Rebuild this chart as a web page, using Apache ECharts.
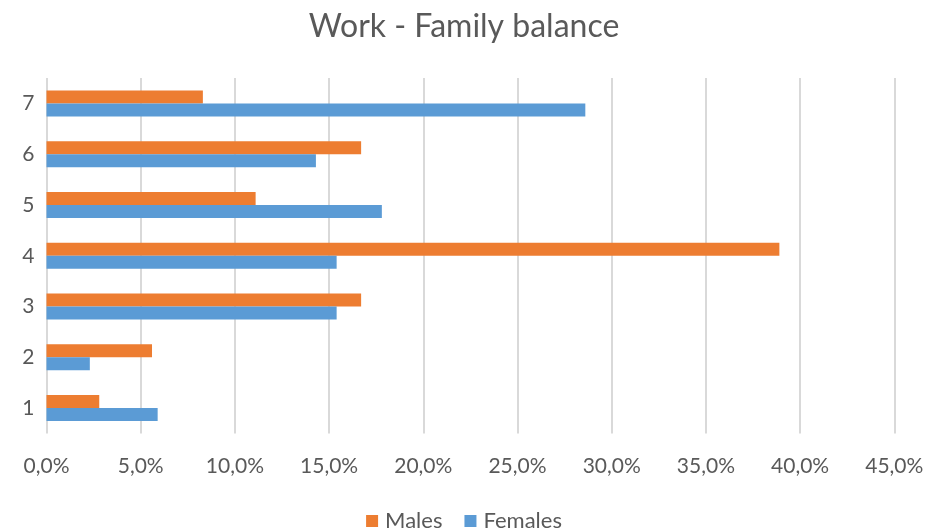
<!DOCTYPE html>
<html><head><meta charset="utf-8">
<script src="https://cdn.jsdelivr.net/npm/echarts@6/dist/echarts.min.js"></script>
<style>html,body{margin:0;padding:0;background:#fff}#c{width:928px;height:531px}</style>
</head><body><div id="c"></div>
<script>
const categories = ['1','2','3','4','5','6','7'];
const males = [2.8, 5.6, 16.7, 38.9, 11.1, 16.7, 8.3];
const females = [5.9, 2.3, 15.4, 15.4, 17.8, 14.3, 28.6];
const titleText = 'Work - Family balance';
const font = 'Lato, "Open Sans", sans-serif';
const chart = echarts.init(document.getElementById('c'));
chart.setOption({
  animation: false,
  title: { text: titleText, left: 'center', top: 6, textStyle: { fontFamily: font, fontSize: 32, fontWeight: 'normal', color: '#595959' } },
  legend: { data: ['Males','Females'], bottom: -6, left: 'center', itemWidth: 12, itemHeight: 12, itemGap: 22, icon: 'rect',
    textStyle: { fontFamily: font, fontSize: 22, color: '#595959', padding: [0,0,0,2] } },
  grid: { left: 46.5, right: 928-894.3, top: 78, bottom: 531-433.5, containLabel: false },
  xAxis: { type: 'value', min: 0, max: 45, interval: 5,
    axisLabel: { formatter: v => v.toFixed(1).replace('.', ',') + '%', fontFamily: font, fontSize: 21, color: '#595959', margin: 22 },
    splitLine: { lineStyle: { color: '#d9d9d9', width: 2 } }, axisLine: { show: false }, axisTick: { show: false } },
  yAxis: { type: 'category', data: categories,
    axisLabel: { fontFamily: font, fontSize: 21, color: '#595959', margin: 12 },
    axisLine: { show: false }, axisTick: { show: false }, splitLine: { show: false } },
  series: [
    { name: 'Males', type: 'bar', data: males, barWidth: 13, barGap: '0%', itemStyle: { color: '#ed7d31' } },
    { name: 'Females', type: 'bar', data: females, barWidth: 13, barGap: '0%', itemStyle: { color: '#5b9bd5' } }
  ]
});
</script></body></html>
